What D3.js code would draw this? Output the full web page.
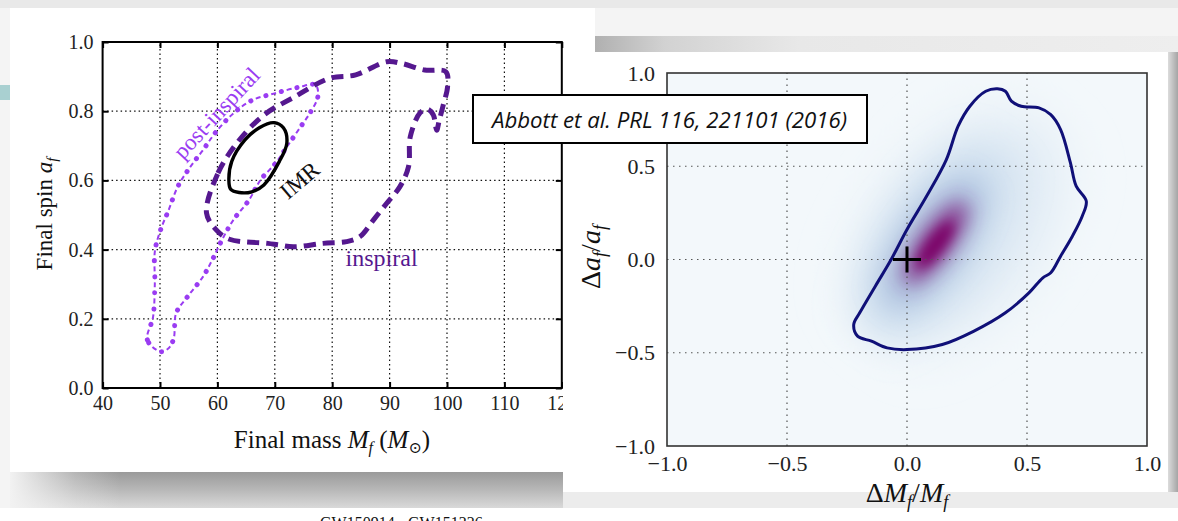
<!DOCTYPE html>
<html>
<head>
<meta charset="utf-8">
<script src="https://cdn.jsdelivr.net/npm/d3@7"></script>
<style>
  body { margin: 0; background: #f5f5f5; }
  svg { display: block; }
  .serif { font-family: "Liberation Serif", "DejaVu Serif", serif; }
</style>
</head>
<body>
<svg id="chart" width="1178" height="521"></svg>
<script>
// ---- data ----
var massTicks = [40, 50, 60, 70, 80, 90, 100, 110, 120];
var spinTicks = [0, 0.2, 0.4, 0.6, 0.8, 1.0];
var devTicks = [-1, -0.5, 0, 0.5, 1];

// [final mass, final spin]
var imrContour = [
  [62.0, 0.601], [62.5, 0.655], [64.8, 0.717], [67.3, 0.752], [69.8, 0.767],
  [71.5, 0.752], [72.1, 0.708], [70.8, 0.655], [68.1, 0.587], [66.0, 0.567],
  [63.8, 0.565], [62.3, 0.575]
];
var inspiralContour = [
  [58.1, 0.506], [60.1, 0.621], [63.4, 0.708], [68.1, 0.789], [73.5, 0.842],
  [79.5, 0.895], [84.1, 0.905], [89.5, 0.943], [92.1, 0.938], [96.1, 0.919],
  [99.8, 0.914], [100.1, 0.871], [99.3, 0.815], [98.6, 0.770], [98.2, 0.745],
  [97.6, 0.790], [96.6, 0.806], [95.3, 0.795], [93.6, 0.726], [93.3, 0.640],
  [91.8, 0.582], [89.5, 0.534], [87.2, 0.486], [84.8, 0.437], [82.5, 0.423],
  [78.4, 0.418], [73.2, 0.408], [70.5, 0.414], [68.8, 0.418], [62.1, 0.430],
  [59.8, 0.457]
];
var postInspiralContour = [
  [50.1, 0.105], [47.8, 0.139], [48.8, 0.206], [49.1, 0.303], [49.1, 0.394],
  [50.1, 0.457], [51.5, 0.514], [53.1, 0.582], [55.1, 0.635], [57.5, 0.688],
  [59.8, 0.741], [62.8, 0.794], [66.1, 0.832], [70.1, 0.852], [74.1, 0.869],
  [77.1, 0.876], [77.5, 0.842], [76.1, 0.794], [74.5, 0.755], [72.1, 0.697],
  [70.1, 0.649], [67.5, 0.601], [65.5, 0.543], [62.8, 0.486], [60.8, 0.428],
  [59.1, 0.370], [57.5, 0.322], [54.8, 0.264], [52.8, 0.216], [52.4, 0.144],
  [51.5, 0.115]
];
// [dMf/Mf, daf/af]
var deviationContour = [
  [-0.066, 0.000], [0.000, 0.161], [0.082, 0.340], [0.164, 0.536], [0.213, 0.715],
  [0.262, 0.822], [0.328, 0.902], [0.377, 0.915], [0.410, 0.902], [0.435, 0.849],
  [0.476, 0.822], [0.550, 0.813], [0.599, 0.777], [0.640, 0.697], [0.681, 0.518],
  [0.705, 0.393], [0.747, 0.313], [0.730, 0.232], [0.689, 0.125], [0.640, 0.018],
  [0.599, -0.071], [0.566, -0.098], [0.508, -0.179], [0.410, -0.286], [0.279, -0.384],
  [0.147, -0.456], [0.000, -0.483], [-0.083, -0.474], [-0.148, -0.438], [-0.206, -0.411],
  [-0.222, -0.349], [-0.197, -0.286], [-0.132, -0.143]
];
// density blobs: centre, end of long half-axis, width ratio, level
var densityCentre = [[0.22, 0.16], [0.11, 0.09], [0.11, 0.09], [0.12, 0.09], [0.12, 0.08]];
var densityAxisEnd = [[0.55, 0.72], [0.36, 0.55], [0.28, 0.40], [0.24, 0.30], [0.19, 0.20]];
var densityRatio = [0.6, 0.42, 0.38, 0.32, 0.3];
var densityLevel = [0.14, 0.3, 0.48, 0.82, 1.0];
var trueValue = [0, 0];

var svg = d3.select("#chart");
var defs = svg.append("defs");

function vGrad(id, stops, horiz) {
  var g = defs.append("linearGradient").attr("id", id)
    .attr("x1", 0).attr("y1", 0).attr("x2", horiz ? 1 : 0).attr("y2", horiz ? 0 : 1);
  stops.forEach(function (s) {
    g.append("stop").attr("offset", s[0]).attr("stop-color", s[1]);
  });
}
vGrad("shadowBottom", [[0, "#9a9a9a"], [0.5, "#b8b8b8"], [1, "#d9d9d9"]]);
vGrad("shadowFade", [[0, "#f2f2f2"], [0.6, "rgba(242,242,242,0.3)"], [1, "rgba(242,242,242,0)"]], true);
vGrad("shadowTop", [[0, "#b0b0b0"], [0.12, "#d2d2d2"], [0.35, "#e8e8e8"], [1, "#eeeeee"]], true);
vGrad("shadowRight", [[0, "#dcdcdc"], [1, "#a5a5a5"]], true);

// ---- background cards ----
svg.append("rect").attr("width", 1178).attr("height", 521).attr("fill", "#f4f4f4");
svg.append("rect").attr("width", 1178).attr("height", 8).attr("fill", "#e9e9e9");
svg.append("rect").attr("x", 0).attr("y", 85).attr("width", 10).attr("height", 15).attr("fill", "#a9d0d1");
svg.append("rect").attr("x", 10).attr("y", 8).attr("width", 585).attr("height", 464).attr("fill", "#fff");
svg.append("rect").attr("x", 10).attr("y", 472).attr("width", 560).attr("height", 36).attr("fill", "url(#shadowBottom)");
svg.append("rect").attr("x", 10).attr("y", 472).attr("width", 110).attr("height", 36).attr("fill", "url(#shadowFade)");
svg.append("rect").attr("x", 0).attr("y", 508).attr("width", 1178).attr("height", 13).attr("fill", "#fff");

svg.append("text").attr("class", "serif")
  .attr("x", 320).attr("y", 528)
  .attr("font-size", 16).attr("fill", "#111")
  .text("GW150914 - GW151226");

// ---- left chart ----
var xL = d3.scaleLinear().domain([40, 120]).range([102.6, 561.8]);
var yL = d3.scaleLinear().domain([0, 1]).range([388, 42]);
var left = svg.append("g");

left.selectAll(".gx").data(massTicks.slice(1, -1)).enter().append("line")
  .attr("x1", function (d) { return xL(d); }).attr("x2", function (d) { return xL(d); })
  .attr("y1", yL(0)).attr("y2", yL(1))
  .attr("stroke", "#111").attr("stroke-width", 1.2).attr("stroke-dasharray", "1.5,3");
left.selectAll(".gy").data(spinTicks.slice(1, -1)).enter().append("line")
  .attr("y1", function (d) { return yL(d); }).attr("y2", function (d) { return yL(d); })
  .attr("x1", xL(40)).attr("x2", xL(120))
  .attr("stroke", "#111").attr("stroke-width", 1.2).attr("stroke-dasharray", "1.5,3");

function styleAxis(g, size) {
  g.select(".domain").remove();
  g.selectAll(".tick line").attr("stroke", "#000").attr("stroke-width", 2);
  g.selectAll(".tick text").attr("class", "serif").attr("font-size", size).attr("fill", "#222");
}
left.append("g").attr("transform", "translate(0," + yL(0) + ")")
  .call(d3.axisBottom(xL).tickValues(massTicks).tickSize(-6).tickPadding(8).tickFormat(d3.format(".0f")))
  .call(styleAxis, 20);
left.append("g").attr("transform", "translate(0," + yL(1) + ")")
  .call(d3.axisTop(xL).tickValues(massTicks).tickSize(-6).tickFormat(""))
  .call(styleAxis, 20);
left.append("g").attr("transform", "translate(" + xL(40) + ",0)")
  .call(d3.axisLeft(yL).tickValues(spinTicks).tickSize(-6).tickPadding(9).tickFormat(d3.format(".1f")))
  .call(styleAxis, 20);
left.append("g").attr("transform", "translate(" + xL(120) + ",0)")
  .call(d3.axisRight(yL).tickValues(spinTicks).tickSize(-6).tickFormat(""))
  .call(styleAxis, 20);

left.append("rect")
  .attr("x", xL(40)).attr("y", yL(1))
  .attr("width", xL(120) - xL(40)).attr("height", yL(0) - yL(1))
  .attr("fill", "none").attr("stroke", "#000").attr("stroke-width", 2);

var lineL = d3.line().x(function (d) { return xL(d[0]); }).y(function (d) { return yL(d[1]); })
  .curve(d3.curveCatmullRomClosed.alpha(0.5));

// post-inspiral: dot-dash drawn as round dots plus thin dashes between them
left.append("path").datum(postInspiralContour).attr("d", lineL)
  .attr("fill", "none").attr("stroke", "#9a3cf2").attr("stroke-width", 5)
  .attr("stroke-linecap", "round").attr("stroke-dasharray", "0.1,15.9");
left.append("path").datum(postInspiralContour).attr("d", lineL)
  .attr("fill", "none").attr("stroke", "#9a3cf2").attr("stroke-width", 2)
  .attr("stroke-dasharray", "5,11").attr("stroke-dashoffset", -5.5);
left.append("path").datum(inspiralContour).attr("d", lineL)
  .attr("fill", "none").attr("stroke", "#55188f").attr("stroke-width", 5)
  .attr("stroke-dasharray", "12,7");
left.append("path").datum(imrContour).attr("d", lineL)
  .attr("fill", "none").attr("stroke", "#000").attr("stroke-width", 3.4);

left.append("text").attr("class", "serif")
  .attr("transform", "translate(" + xL(59.8) + "," + yL(0.795) + ") rotate(-47)")
  .attr("text-anchor", "middle").attr("dy", "0.35em")
  .attr("font-size", 23).attr("fill", "#9a3cf2").text("post-inspiral");
left.append("text").attr("class", "serif")
  .attr("transform", "translate(" + xL(74.3) + "," + yL(0.601) + ") rotate(-40)")
  .attr("text-anchor", "middle").attr("dy", "0.35em")
  .attr("font-size", 23).attr("fill", "#111").text("IMR");
left.append("text").attr("class", "serif")
  .attr("x", xL(88.6)).attr("y", yL(0.353))
  .attr("text-anchor", "middle")
  .attr("font-size", 24).attr("fill", "#55188f").text("inspiral");

var yTitle = left.append("text").attr("class", "serif")
  .attr("transform", "translate(52,214) rotate(-90)")
  .attr("text-anchor", "middle").attr("font-size", 23).attr("fill", "#111");
yTitle.append("tspan").text("Final spin ");
yTitle.append("tspan").attr("font-style", "italic").text("a");
yTitle.append("tspan").attr("font-style", "italic").attr("font-size", 15).attr("dy", 5).text("f");

var xTitle = left.append("text").attr("class", "serif")
  .attr("x", 332).attr("y", 448)
  .attr("text-anchor", "middle").attr("font-size", 25).attr("fill", "#111");
xTitle.append("tspan").text("Final mass ");
xTitle.append("tspan").attr("font-style", "italic").text("M");
xTitle.append("tspan").attr("font-style", "italic").attr("font-size", 16).attr("dy", 5).text("f");
xTitle.append("tspan").attr("dy", -5).text(" (");
xTitle.append("tspan").attr("font-style", "italic").text("M");
xTitle.append("tspan").attr("font-size", 16).attr("dy", 5).text("\u2299");
xTitle.append("tspan").attr("dy", -5).text(")");

// ---- right card ----
svg.append("rect").attr("x", 595).attr("y", 36).attr("width", 583).attr("height", 16).attr("fill", "url(#shadowTop)");
svg.append("rect").attr("x", 1168).attr("y", 52).attr("width", 10).attr("height", 456).attr("fill", "url(#shadowRight)");
svg.append("rect").attr("x", 563).attr("y", 492).attr("width", 615).attr("height", 16).attr("fill", "#ececec");
svg.append("rect").attr("x", 563).attr("y", 52).attr("width", 605).attr("height", 440).attr("fill", "#fff");

var xR = d3.scaleLinear().domain([-1, 1]).range([667, 1147]);
var yR = d3.scaleLinear().domain([-1, 1]).range([446, 73]);
var right = svg.append("g");

right.append("rect")
  .attr("x", xR(-1)).attr("y", yR(1))
  .attr("width", xR(1) - xR(-1)).attr("height", yR(-1) - yR(1))
  .attr("fill", "#f3f8fb");

var clip = defs.append("clipPath").attr("id", "plotR");
clip.append("rect").attr("x", xR(-1)).attr("y", yR(1))
  .attr("width", xR(1) - xR(-1)).attr("height", yR(-1) - yR(1));

var shade = d3.interpolateRgbBasis(["#f3f8fb", "#d0e0ef", "#9dbcdc", "#8c4f9f", "#7c0066"]);
var blobs = right.append("g").attr("clip-path", "url(#plotR)");
densityCentre.forEach(function (c, i) {
  var cx = xR(c[0]), cy = yR(c[1]);
  var ex = xR(densityAxisEnd[i][0]), ey = yR(densityAxisEnd[i][1]);
  var len = Math.hypot(ex - cx, ey - cy);
  var ang = Math.atan2(ey - cy, ex - cx) * 180 / Math.PI;
  var f = defs.append("filter").attr("id", "blur" + i)
    .attr("x", "-100%").attr("y", "-100%").attr("width", "300%").attr("height", "300%");
  f.append("feGaussianBlur").attr("stdDeviation", len * 0.2);
  blobs.append("ellipse")
    .attr("transform", "translate(" + cx + "," + cy + ") rotate(" + ang + ")")
    .attr("rx", len).attr("ry", len * densityRatio[i])
    .attr("fill", shade(densityLevel[i]))
    .attr("filter", "url(#blur" + i + ")");
});

right.selectAll(".gx").data(devTicks.slice(1, -1)).enter().append("line")
  .attr("x1", function (d) { return xR(d); }).attr("x2", function (d) { return xR(d); })
  .attr("y1", yR(-1)).attr("y2", yR(1))
  .attr("stroke", "#555").attr("stroke-width", 1.2).attr("stroke-dasharray", "1.5,4.5");
right.selectAll(".gy").data(devTicks.slice(1, -1)).enter().append("line")
  .attr("y1", function (d) { return yR(d); }).attr("y2", function (d) { return yR(d); })
  .attr("x1", xR(-1)).attr("x2", xR(1))
  .attr("stroke", "#555").attr("stroke-width", 1.2).attr("stroke-dasharray", "1.5,4.5");

var lineR = d3.line().x(function (d) { return xR(d[0]); }).y(function (d) { return yR(d[1]); })
  .curve(d3.curveCatmullRomClosed.alpha(0.5));
right.append("path").datum(deviationContour).attr("d", lineR)
  .attr("fill", "none").attr("stroke", "#101078").attr("stroke-width", 3);

right.append("line")
  .attr("x1", xR(trueValue[0]) - 14).attr("x2", xR(trueValue[0]) + 14)
  .attr("y1", yR(trueValue[1])).attr("y2", yR(trueValue[1]))
  .attr("stroke", "#000").attr("stroke-width", 3);
right.append("line")
  .attr("x1", xR(trueValue[0])).attr("x2", xR(trueValue[0]))
  .attr("y1", yR(trueValue[1]) - 13).attr("y2", yR(trueValue[1]) + 13)
  .attr("stroke", "#000").attr("stroke-width", 3);

right.append("g").attr("transform", "translate(0," + yR(-1) + ")")
  .call(d3.axisBottom(xR).tickValues(devTicks).tickSize(0).tickPadding(9).tickFormat(d3.format(".1f")))
  .call(styleAxis, 22);
right.append("g").attr("transform", "translate(" + xR(-1) + ",0)")
  .call(d3.axisLeft(yR).tickValues(devTicks).tickSize(0).tickPadding(12).tickFormat(d3.format(".1f")))
  .call(styleAxis, 22);

right.append("rect")
  .attr("x", xR(-1)).attr("y", yR(1))
  .attr("width", xR(1) - xR(-1)).attr("height", yR(-1) - yR(1))
  .attr("fill", "none").attr("stroke", "#333").attr("stroke-width", 1.6);

var ryTitle = right.append("text").attr("class", "serif")
  .attr("transform", "translate(600,257) rotate(-90)")
  .attr("text-anchor", "middle").attr("font-size", 28).attr("fill", "#111");
ryTitle.append("tspan").text("\u0394");
ryTitle.append("tspan").attr("font-style", "italic").text("a");
ryTitle.append("tspan").attr("font-style", "italic").attr("font-size", 18).attr("dy", 6).text("f");
ryTitle.append("tspan").attr("dy", -6).text("/");
ryTitle.append("tspan").attr("font-style", "italic").text("a");
ryTitle.append("tspan").attr("font-style", "italic").attr("font-size", 18).attr("dy", 6).text("f");

var rxTitle = right.append("text").attr("class", "serif")
  .attr("x", 907).attr("y", 502)
  .attr("text-anchor", "middle").attr("font-size", 28).attr("fill", "#111");
rxTitle.append("tspan").text("\u0394");
rxTitle.append("tspan").attr("font-style", "italic").text("M");
rxTitle.append("tspan").attr("font-style", "italic").attr("font-size", 18).attr("dy", 6).text("f");
rxTitle.append("tspan").attr("dy", -6).text("/");
rxTitle.append("tspan").attr("font-style", "italic").text("M");
rxTitle.append("tspan").attr("font-style", "italic").attr("font-size", 18).attr("dy", 6).text("f");

// ---- citation box ----
svg.append("rect").attr("x", 473).attr("y", 95).attr("width", 394).attr("height", 48)
  .attr("fill", "#fff").attr("stroke", "#000").attr("stroke-width", 2);
svg.append("text")
  .attr("x", 492).attr("y", 128)
  .attr("font-family", "'Open Sans', 'Noto Sans', sans-serif")
  .attr("font-style", "italic").attr("font-size", 21).attr("fill", "#111")
  .attr("textLength", 355).attr("lengthAdjust", "spacingAndGlyphs")
  .text("Abbott et al. PRL 116, 221101 (2016)");
</script>
</body>
</html>
